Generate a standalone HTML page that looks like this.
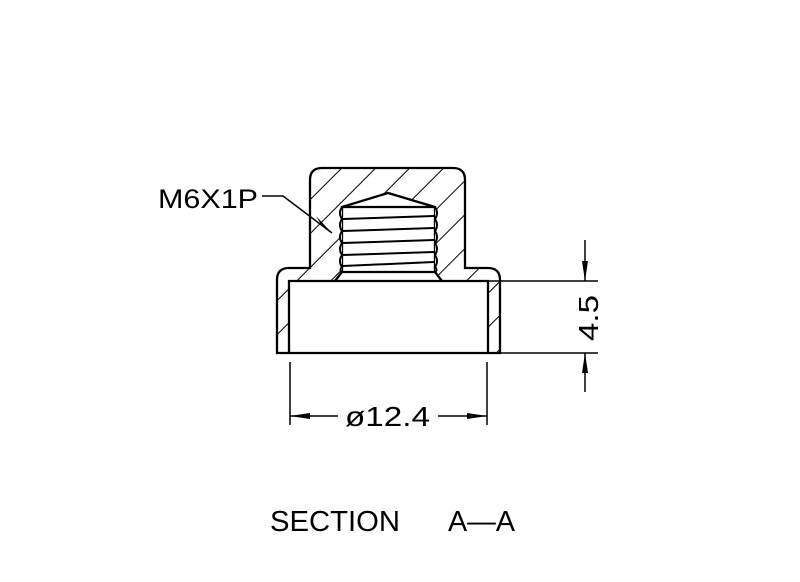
<!DOCTYPE html>
<html><head><style>html,body{margin:0;padding:0;background:#fff}</style></head>
<body>
<svg width="800" height="577" viewBox="0 0 800 577" xmlns="http://www.w3.org/2000/svg">
<defs>
<pattern id="h" patternUnits="userSpaceOnUse" width="24" height="24" patternTransform="rotate(45)">
<line x1="0" y1="0" x2="0" y2="24" stroke="#000" stroke-width="2"/>
</pattern>
<marker id="a" viewBox="0 0 20 6" refX="20" refY="3" markerWidth="20" markerHeight="6" markerUnits="userSpaceOnUse" orient="auto-start-reverse">
<path d="M0,0 L20,3 L0,6 Z" fill="#000"/></marker>
</defs>
<g stroke="#000" stroke-width="2.3" fill="none">
<path fill="url(#h)" fill-rule="evenodd" d="M277,353 L277,280 Q277,268 289,268 L310,268 L310,180 Q310,168 322,168 L453,168 Q465,168 465,180 L465,268 L488,268 Q500,268 500,280 L500,353 Z
M289,281 L289,353 L488,353 L488,281 Z
M342,207 L388,193 L435,207 L435,272 L442,281 L335,281 L342,272 Z"/>
<path d="M343,207 L434,207 M342,272 L435,272" />
<g stroke-width="2">
<path d="M343,219 L434,216 M343,231 L434,228 M343,243 L434,240 M343,255 L434,252 M343,266 L434,262"/>
<path d="M342,207 q-4,6 0,12 q-4,6 0,12 q-4,6 0,12 q-4,6 0,12 q-4,6 0,12 q-3,3 0,5" fill="#fff"/>
<path d="M435,207 q4,6 0,12 q4,6 0,12 q4,6 0,12 q4,6 0,12 q4,6 0,12 q3,3 0,5" fill="#fff"/>
</g>
<g stroke-width="1.5">
<path d="M488,281 L598,281 M500,353 L598,353"/>
<path d="M585,240 L585,281" marker-end="url(#a)"/>
<path d="M585,392 L585,353" marker-end="url(#a)"/>
<path d="M290,362 L290,425 M487,362 L487,425"/>
<path d="M338,416 L290,416" marker-end="url(#a)"/>
<path d="M438,416 L487,416" marker-end="url(#a)"/>
<path d="M262,196 L283,196 L332,233"/>
</g>
</g>
<path d="M332,233 L316,216 L322,226 Z" fill="#000"/>
<g font-family="Liberation Sans, sans-serif" fill="#000">
<text x="158" y="208" font-size="27" textLength="100" lengthAdjust="spacingAndGlyphs">M6X1P</text>
<text x="345" y="426" font-size="28" textLength="85" lengthAdjust="spacingAndGlyphs">ø12.4</text>
<text transform="translate(598,341) rotate(-90)" font-size="28" textLength="46" lengthAdjust="spacingAndGlyphs">4.5</text>
<text x="270" y="531" font-size="29" textLength="130" lengthAdjust="spacingAndGlyphs">SECTION</text>
<text x="448" y="531" font-size="29" textLength="67" lengthAdjust="spacingAndGlyphs">A—A</text>
</g>
</svg>
</body></html>
